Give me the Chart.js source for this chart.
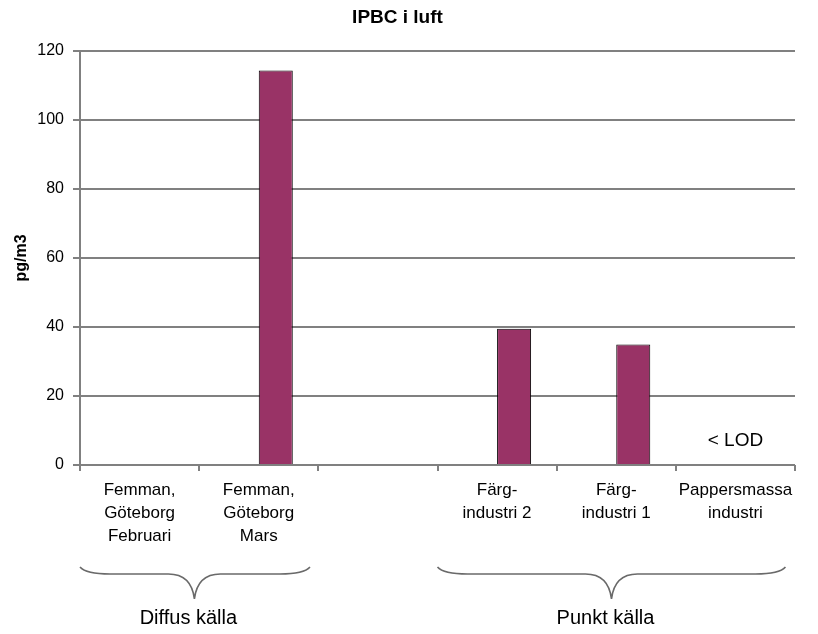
<!DOCTYPE html>
<html>
<head>
<meta charset="utf-8">
<script src="https://cdn.jsdelivr.net/npm/chart.js@4/dist/chart.umd.min.js"></script>
<style>
  html, body { margin: 0; padding: 0; background: #fff; }
  #wrap { width: 818px; height: 634px; }
</style>
</head>
<body>
<div id="wrap"><canvas id="c" width="818" height="634"></canvas></div>
<script>
// ---- data ----
const categories = [
  ["Femman,", "Göteborg", "Februari"],
  ["Femman,", "Göteborg", "Mars"],
  "",
  ["Färg-", "industri 2"],
  ["Färg-", "industri 1"],
  ["Pappersmassa", "industri"]
];
const spacerSeries = [null, null, null, null, null, null];
const ipbcValues = [null, 114.3, null, 39.5, 34.9, null];
const yTicks = [0, 20, 40, 60, 80, 100, 120];
const chartTitle = "IPBC i luft";
const yTitle = "pg/m3";
const lodNote = { category: 5, value: 7, text: "< LOD" };
const groups = [
  { label: "Diffus källa", from: -0.5, tip: 0.46, to: 1.43 },
  { label: "Punkt källa", from: 2.5, tip: 3.96, to: 5.42 }
];

const FONT = "'Liberation Sans', Arial, sans-serif";

const annotations = {
  id: 'annotations',
  afterDraw(chart) {
    const ctx = chart.ctx;
    const x = chart.scales.x, y = chart.scales.y;
    ctx.save();
    // < LOD note
    ctx.fillStyle = '#000';
    ctx.font = "19px " + FONT;
    ctx.textAlign = 'center';
    ctx.textBaseline = 'middle';
    ctx.fillText(lodNote.text, x.getPixelForValue(lodNote.category), y.getPixelForValue(lodNote.value));
    // braces
    const y0 = 567, y1 = 574, y2 = 599;
    ctx.strokeStyle = '#6a6a6a';
    ctx.lineWidth = 1.6;
    groups.forEach(g => {
      const a = x.getPixelForValue(g.from);
      const t = x.getPixelForValue(g.tip);
      const b = x.getPixelForValue(g.to);
      ctx.beginPath();
      ctx.moveTo(a, y0);
      ctx.quadraticCurveTo(a + 6, y1, a + 30, y1);
      ctx.lineTo(t - 26, y1);
      ctx.quadraticCurveTo(t - 3, y1, t, y2);
      ctx.moveTo(b, y0);
      ctx.quadraticCurveTo(b - 6, y1, b - 30, y1);
      ctx.lineTo(t + 26, y1);
      ctx.quadraticCurveTo(t + 3, y1, t, y2);
      ctx.stroke();
      ctx.fillStyle = '#000';
      ctx.font = "20px " + FONT;
      ctx.textAlign = 'center';
      ctx.textBaseline = 'middle';
      ctx.fillText(g.label, t - 6, 618);
    });
    ctx.restore();
  }
};

new Chart(document.getElementById('c'), {
  type: 'bar',
  data: {
    labels: categories,
    datasets: [
      { label: '', data: spacerSeries, backgroundColor: '#993366', borderColor: '#000', borderWidth: 1 },
      { label: chartTitle, data: ipbcValues, backgroundColor: '#993366', borderColor: '#000', borderWidth: 1 }
    ]
  },
  options: {
    responsive: false,
    animation: false,
    devicePixelRatio: 1,
    layout: { padding: { left: 0, right: 23, top: 0, bottom: 0 } },
    datasets: { bar: { categoryPercentage: 0.571, barPercentage: 1.0 } },
    plugins: {
      legend: { display: false },
      tooltip: { enabled: false },
      title: {
        display: true,
        text: chartTitle,
        color: '#000',
        font: { family: FONT, size: 19, weight: 'bold', lineHeight: 1.2 },
        padding: { top: 6, bottom: 22 }
      }
    },
    scales: {
      x: {
        grid: { display: true, drawOnChartArea: false, drawTicks: true, tickLength: 6, color: '#808080', lineWidth: 2, offset: true },
        border: { display: false },
        ticks: {
          color: '#000', autoSkip: false, maxRotation: 0, padding: 8,
          font: { family: FONT, size: 17, lineHeight: 1.35 }
        },
        afterFit(scale) { scale.height = 169; }
      },
      y: {
        min: 0, max: 120,
        afterBuildTicks(scale) { scale.ticks = yTicks.map(v => ({ value: v })); },
        grid: { color: '#808080', lineWidth: 2, tickLength: 7 },
        border: { display: true, color: '#808080', width: 2 },
        ticks: { color: '#000', padding: 9, font: { family: FONT, size: 16 } },
        title: {
          display: true, text: yTitle, color: '#000',
          font: { family: FONT, size: 16, weight: 'bold', lineHeight: 1.2 },
          padding: { top: 12, bottom: 0 }
        },
        afterFit(scale) { scale.width = 80; }
      }
    }
  },
  plugins: [annotations]
});
</script>
</body>
</html>
